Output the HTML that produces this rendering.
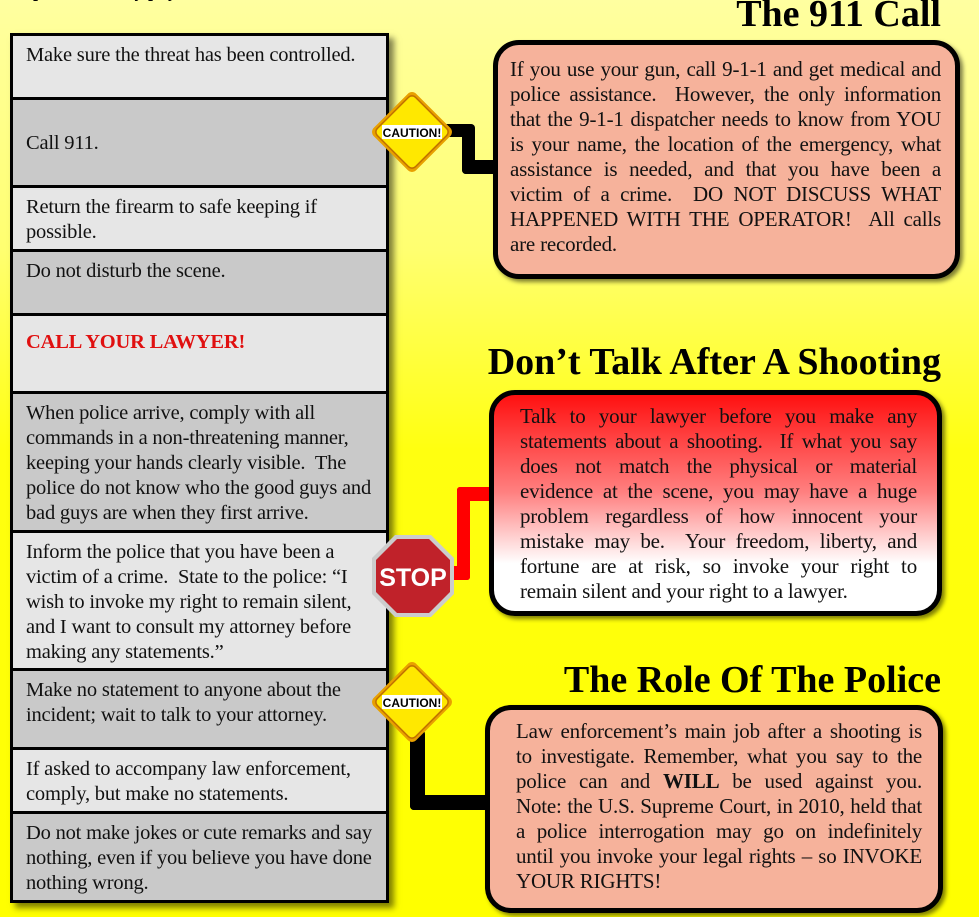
<!DOCTYPE html>
<html><head><style>
*{margin:0;padding:0;box-sizing:border-box}
body{width:979px;height:917px;overflow:hidden;position:relative;font-family:"Liberation Serif",serif;background:linear-gradient(#ffffa0 0px,#ffff70 250px,#ffff10 450px,#ffff00 917px);}
.tbl{position:absolute;left:10px;top:33px;width:379px;border:3px solid #000;box-shadow:5px 5px 6px rgba(0,0,0,.5)}
.r{border-bottom:3px solid #000;padding:7px 13px;font-size:20.5px;line-height:25px;color:#111;letter-spacing:-0.2px}
.r:last-child{border-bottom:none}
.l{background:#e6e6e6}.d{background:#c9c9c9}
.box{position:absolute;border:5px solid #000;border-radius:26px;font-size:21px;line-height:25px;text-align:justify;color:#111;box-shadow:3px 3px 4px rgba(0,0,0,.5);letter-spacing:-0.2px}
.box span.j{display:block;text-align:justify;text-align-last:justify}
h2{position:absolute;right:38px;font-size:38px;font-weight:bold;color:#000;white-space:nowrap}
.ln{position:absolute;background:#000}
</style></head><body>
<div style="position:absolute;left:20px;top:-19px;font-size:18px;font-weight:bold">Upon use of any physical force</div>
<div class="tbl">
<div class="r l" style="height:64px">Make sure the threat has been controlled.</div>
<div class="r d" style="height:88px;padding-top:31px">Call 911.</div>
<div class="r l" style="height:64px">Return the firearm to safe keeping if possible.</div>
<div class="r d" style="height:64px">Do not disturb the scene.</div>
<div class="r l" style="height:78px;padding-top:14px;color:#e01010;font-weight:bold">CALL YOUR LAWYER!</div>
<div class="r d" style="height:139px">When police arrive, comply with all commands in a non-threatening manner, keeping your hands clearly visible.&nbsp; The police do not know who the good guys and bad guys are when they first arrive.</div>
<div class="r l" style="height:138px">Inform the police that you have been a victim of a crime.&nbsp; State to the police: “I wish to invoke my right to remain silent, and I want to consult my attorney before making any statements.”</div>
<div class="r d" style="height:79px">Make no statement to anyone about the incident; wait to talk to your attorney.</div>
<div class="r l" style="height:64px">If asked to accompany law enforcement, comply, but make no statements.</div>
<div class="r d" style="height:86px">Do not make jokes or cute remarks and say nothing, even if you believe you have done nothing wrong.</div>
</div>

<h2 style="top:-8px">The 911 Call</h2>
<h2 style="top:340px">Don’t Talk After A Shooting</h2>
<h2 style="top:658px">The Role Of The Police</h2>

<div class="ln" style="left:440px;top:124px;width:34px;height:13px;border-radius:4px"></div>
<div class="ln" style="left:462px;top:124px;width:13px;height:50px;border-radius:4px"></div>
<div class="ln" style="left:462px;top:160px;width:36px;height:14px;border-radius:4px"></div>

<div class="ln" style="left:440px;top:566px;width:30px;height:14px;background:#f00;border-radius:3px"></div>
<div class="ln" style="left:457px;top:487px;width:13px;height:93px;background:#f00;border-radius:3px"></div>
<div class="ln" style="left:457px;top:487px;width:38px;height:14px;background:#f00;border-radius:3px"></div>

<div class="ln" style="left:410px;top:730px;width:15px;height:80px;border-radius:4px"></div>
<div class="ln" style="left:410px;top:795px;width:80px;height:15px;border-radius:4px"></div>

<div class="box" style="left:493px;top:40px;width:467px;height:239px;background:#f6b29b;padding:12px 14px 0 12px">If you use your gun, call 9-1-1 and get medical and police assistance.&nbsp; However, the only information that the 9-1-1 dispatcher needs to know from YOU is your name, the location of the emergency, what assistance is needed, and that you have been a victim of a crime.&nbsp; DO NOT DISCUSS WHAT HAPPENED WITH THE OPERATOR!&nbsp; All calls are recorded.</div>
<div class="box" style="left:489px;top:390px;width:453px;height:226px;background:linear-gradient(#ff1010 0%,#ff8080 45%,#ffffff 78%,#fff 100%);padding:9px 20px 0 26px">Talk to your lawyer before you make any statements about a shooting.&nbsp; If what you say does not match the physical or material evidence at the scene, you may have a huge problem regardless of how innocent your mistake may be.&nbsp; Your freedom, liberty, and fortune are at risk, so invoke your right to remain silent and your right to a lawyer.</div>
<div class="box" style="left:485px;top:705px;width:458px;height:208px;background:#f6b29b;padding:9px 16px 0 26px">
<span class="j">Law enforcement’s main job after a shooting is</span>
<span class="j">to investigate. Remember, what you say to the</span>
<span class="j">police can and <b>WILL</b> be used against you.</span>
<span class="j">Note: the U.S. Supreme Court, in 2010, held that</span>
<span class="j">a police interrogation may go on indefinitely</span>
<span class="j">until you invoke your legal rights – so INVOKE</span>
<span style="display:block">YOUR RIGHTS!</span>
</div>

<svg style="position:absolute;left:364px;top:86px" width="96" height="92" viewBox="0 0 96 92">
<g transform="translate(48,46)">
<rect x="-30" y="-30" width="60" height="60" rx="6" transform="rotate(45)" fill="#e8a000"/>
<rect x="-27" y="-27" width="54" height="54" rx="5" transform="rotate(45)" fill="#ffe800" stroke="#c07000" stroke-width="1.5"/>
<rect x="-30" y="-7" width="60" height="14" fill="#fff"/>
<text x="0" y="5" text-anchor="middle" font-family="Liberation Sans,sans-serif" font-weight="bold" font-size="12" fill="#000">CAUTION!</text>
</g></svg>
<svg style="position:absolute;left:364px;top:656px" width="96" height="92" viewBox="0 0 96 92">
<g transform="translate(48,46)">
<rect x="-30" y="-30" width="60" height="60" rx="6" transform="rotate(45)" fill="#e8a000"/>
<rect x="-27" y="-27" width="54" height="54" rx="5" transform="rotate(45)" fill="#ffe800" stroke="#c07000" stroke-width="1.5"/>
<rect x="-30" y="-7" width="60" height="14" fill="#fff"/>
<text x="0" y="5" text-anchor="middle" font-family="Liberation Sans,sans-serif" font-weight="bold" font-size="12" fill="#000">CAUTION!</text>
</g></svg>
<svg style="position:absolute;left:370px;top:533px" width="86" height="86" viewBox="0 0 86 86">
<polygon points="25,2 61,2 84,25 84,61 61,84 25,84 2,61 2,25" fill="#ccc"/>
<polygon points="27,6 59,6 80,27 80,59 59,80 27,80 6,59 6,27" fill="#c0222a"/>
<text x="43" y="53" text-anchor="middle" font-family="Liberation Sans,sans-serif" font-weight="bold" font-size="25" fill="#fff">STOP</text>
</svg>
</body></html>
